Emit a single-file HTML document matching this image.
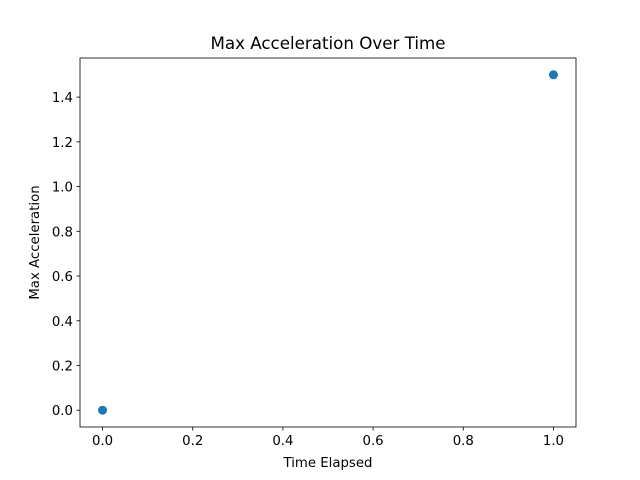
<!DOCTYPE html>
<html><head><meta charset="utf-8"><style>
html,body{margin:0;padding:0;background:#fff;}
svg{display:block;font-family:"DejaVu Sans","Liberation Sans",sans-serif;}
</style></head><body>
<svg id="chart" width="640" height="480">
<rect width="640" height="480" fill="#fff"/>
<text x="328" y="49" font-size="16.7" text-anchor="middle">Max Acceleration Over Time</text>
<g id="plot"></g>
<rect x="80" y="58" width="496" height="369" fill="none" stroke="#000" stroke-width="0.8"/>
<text x="328" y="467" font-size="13.3" text-anchor="middle">Time Elapsed</text>
<text transform="translate(39,242.5) rotate(-90)" font-size="13.3" text-anchor="middle">Max Acceleration</text>
</svg>
<script>
const xValues = [0, 1];
const yValues = [0, 1.5];
const xTicks = [0, 0.2, 0.4, 0.6, 0.8, 1.0];
const yTicks = [0, 0.2, 0.4, 0.6, 0.8, 1.0, 1.2, 1.4];
const xTickLabels = ["0.0","0.2","0.4","0.6","0.8","1.0"];
const yTickLabels = ["0.0","0.2","0.4","0.6","0.8","1.0","1.2","1.4"];

const L=80,R=576,T=58,B=427;
const xMin=-0.05,xMax=1.05,yMin=-0.075,yMax=1.575;
const sx=v=>L+(v-xMin)/(xMax-xMin)*(R-L);
const sy=v=>B-(v-yMin)/(yMax-yMin)*(B-T);
const NS="http://www.w3.org/2000/svg";
const g=document.getElementById('plot');
function mk(tag,attrs){const e=document.createElementNS(NS,tag);for(const k in attrs)e.setAttribute(k,attrs[k]);g.appendChild(e);return e;}
xTicks.forEach((v,i)=>{
  const l=mk('line',{x1:sx(v),x2:sx(v),y1:B,y2:B+3.5,stroke:'#000','stroke-width':0.8});
  
  
  const t=mk('text',{x:sx(v),y:B+18,'font-size':13.3,'text-anchor':'middle'});
  t.textContent=xTickLabels[i];
  
  
});
yTicks.forEach((v,i)=>{
  const l=mk('line',{x1:L-3.5,x2:L,y1:sy(v),y2:sy(v),stroke:'#000','stroke-width':0.8});
  
  
  const t=mk('text',{x:L-7,y:sy(v)+5,'font-size':13.3,'text-anchor':'end'});
  t.textContent=yTickLabels[i];
  
  
});
xValues.forEach((v,i)=>{
  const c=mk('circle',{cx:sx(v),cy:sy(yValues[i]),r:4.5,fill:'#1f77b4'});
  
  
});
</script>
</body></html>
